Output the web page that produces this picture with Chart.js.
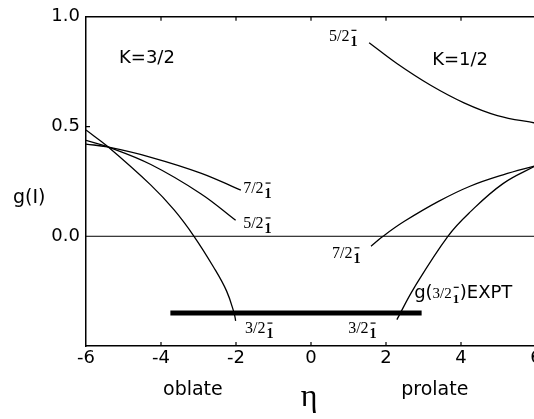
<!DOCTYPE html>
<html>
<head>
<meta charset="utf-8">
<script src="https://cdn.jsdelivr.net/npm/chart.js@4.4.1/dist/chart.umd.min.js"></script>
<style>
    html, body { margin: 0; padding: 0; background: #fff; overflow: hidden; }
    canvas { display: block; }
</style>
</head>
<body>
<canvas id="chart" width="560" height="419" style="width:560px;height:419px"></canvas>
<script>
// g-factor of the 1- band heads versus deformation eta
const xTicks = [-6, -4, -2, 0, 2, 4, 6];
const yTicks = [1.0, 0.5, 0.0];

// K=3/2 (oblate side)
const k32_72_eta = [-6, -5.43, -4.27, -2.94, -1.87];
const k32_72_g   = [0.42, 0.407, 0.36, 0.288, 0.21];
const k32_52_eta = [-6, -5.43, -4.27, -2.94, -2.01];
const k32_52_g   = [0.437, 0.408, 0.327, 0.194, 0.073];
const k32_32_eta = [-6, -5.43, -4.27, -3.65, -3.12, -2.6, -2.25, -2.05, -2.01];
const k32_32_g   = [0.484, 0.41, 0.233, 0.12, 0.0, -0.14, -0.25, -0.35, -0.385];

// K=1/2 (prolate side)
const k12_52_eta = [1.55, 2.3, 3.19, 4.08, 4.97, 6];
const k12_52_g   = [0.882, 0.786, 0.688, 0.608, 0.55, 0.515];
const k12_72_eta = [1.6, 1.92, 2.48, 3.4, 4.24, 5.12, 6];
const k12_72_g   = [-0.045, 0, 0.067, 0.159, 0.228, 0.28, 0.322];
const k12_32_eta = [2.29, 2.75, 3.65, 4.24, 5.12, 6];
const k12_32_g   = [-0.38, -0.235, 0, 0.11, 0.24, 0.322];

// experimental g(3/2-) band
const exptEta = [-3.75, 2.95];
const exptG = -0.35;

// level labels: spin, anchor (eta, g)
const levelLabels = [
    { spin: '7/2', eta: -1.81, g: 0.195 },
    { spin: '5/2', eta: -1.81, g: 0.036 },
    { spin: '3/2', eta: -1.76, g: -0.443 },
    { spin: '3/2', eta: 0.99, g: -0.443 },
    { spin: '7/2', eta: 0.56, g: -0.10 },
    { spin: '5/2', eta: 0.48, g: 0.891 }
];

const SANS = "'DejaVu Sans', sans-serif";
const SERIF = "'Liberation Serif', 'Times New Roman', serif";

function pts(xs, ys) {
    return xs.map((x, i) => ({ x: x, y: ys[i] }));
}

function curve(xs, ys) {
    return {
        data: pts(xs, ys),
        borderColor: '#000',
        borderWidth: 1.3,
        pointRadius: 0,
        showLine: true,
        tension: 0.4
    };
}

// "7/2" with stacked superscript minus and subscript 1
function drawLevel(ctx, spin, px, py, size) {
    ctx.font = size + 'px ' + SERIF;
    ctx.textAlign = 'left';
    ctx.textBaseline = 'alphabetic';
    ctx.fillText(spin, px, py);
    const w = ctx.measureText(spin).width;
    ctx.font = 'bold ' + (size - 2) + 'px ' + SERIF;
    ctx.fillText('1', px + w + 1, py + 5);
    ctx.fillRect(px + w + 2, py - 11, 5, 1.2);
    return w + 9;
}

const labelPlugin = {
    id: 'labels',
    afterDraw(chart) {
        const ctx = chart.ctx;
        const xs = chart.scales.x, ys = chart.scales.y;
        const area = chart.chartArea;
        ctx.save();
        ctx.fillStyle = '#000';
        ctx.strokeStyle = '#000';

        // inner tick marks
        ctx.lineWidth = 1.2;
        ctx.beginPath();
        [-4, -2, 0, 2, 4].forEach(v => {
            const px = xs.getPixelForValue(v);
            ctx.moveTo(px, area.bottom);
            ctx.lineTo(px, area.bottom - 4);
            ctx.moveTo(px, area.top);
            ctx.lineTo(px, area.top + 4);
        });
        const p5 = ys.getPixelForValue(0.5);
        ctx.moveTo(area.left, p5);
        ctx.lineTo(area.left + 4, p5);
        ctx.stroke();

        levelLabels.forEach(l => {
            drawLevel(ctx, l.spin, xs.getPixelForValue(l.eta), ys.getPixelForValue(l.g), 16);
        });

        // K labels
        ctx.font = '18px ' + SANS;
        ctx.textAlign = 'left';
        ctx.textBaseline = 'alphabetic';
        ctx.fillText('K=3/2', xs.getPixelForValue(-5.12), ys.getPixelForValue(0.79));
        ctx.fillText('K=1/2', xs.getPixelForValue(3.23), ys.getPixelForValue(0.78));

        // experimental label
        let ex = xs.getPixelForValue(2.75);
        const ey = ys.getPixelForValue(-0.28);
        ctx.font = '18px ' + SANS;
        ctx.fillText('g(', ex, ey);
        ex += ctx.measureText('g(').width;
        ex += drawLevel(ctx, '3/2', ex, ey, 15);
        ctx.font = '18px ' + SANS;
        ctx.fillText(')EXPT', ex - 1, ey);

        // axis titles
        ctx.font = '19px ' + SANS;
        ctx.fillText('g(I)', 13, 203);
        ctx.textAlign = 'center';
        ctx.fillText('oblate', xs.getPixelForValue(-3.15), 395);
        ctx.fillText('prolate', xs.getPixelForValue(3.3), 395);
        ctx.font = '32px ' + SERIF;
        ctx.fillText('\u03B7', xs.getPixelForValue(-0.05), 406);
        ctx.restore();
    }
};

new Chart(document.getElementById('chart'), {
    type: 'scatter',
    data: {
        datasets: [
            { data: pts([-6, 6], [0, 0]), borderColor: '#000', borderWidth: 1, pointRadius: 0, showLine: true },
            curve(k32_72_eta, k32_72_g),
            curve(k32_52_eta, k32_52_g),
            curve(k32_32_eta, k32_32_g),
            curve(k12_52_eta, k12_52_g),
            curve(k12_72_eta, k12_72_g),
            curve(k12_32_eta, k12_32_g),
            { data: pts(exptEta, [exptG, exptG]), borderColor: '#000', borderWidth: 5, pointRadius: 0, showLine: true, borderCapStyle: 'butt' }
        ]
    },
    options: {
        responsive: false,
        animation: false,
        layout: { padding: { top: 14, right: 24, left: 0, bottom: 0 } },
        plugins: { legend: { display: false }, tooltip: { enabled: false } },
        scales: {
            x: {
                type: 'linear',
                min: -6, max: 6,
                afterBuildTicks: s => { s.ticks = xTicks.map(v => ({ value: v })); },
                afterFit: s => { s.height = 73; },
                grid: { display: false, drawTicks: false },
                border: { display: true, color: '#000', width: 1.5 },
                ticks: { color: '#000', padding: 2, font: { family: SANS, size: 18 } }
            },
            x2: {
                type: 'linear',
                position: 'top',
                min: -6, max: 6,
                afterFit: s => { s.height = 0; },
                grid: { display: false, drawTicks: false },
                border: { display: true, color: '#000', width: 1.5 },
                ticks: { display: false }
            },
            y: {
                min: -0.5, max: 1.0,
                afterBuildTicks: s => { s.ticks = yTicks.map(v => ({ value: v })); },
                afterFit: s => { s.width = 86; },
                grid: { display: false, drawTicks: false },
                border: { display: true, color: '#000', width: 1.5 },
                ticks: {
                    color: '#000', padding: 6,
                    font: { family: SANS, size: 18 },
                    callback: v => v.toFixed(1)
                }
            }
        }
    },
    plugins: [labelPlugin]
});
</script>
</body>
</html>
